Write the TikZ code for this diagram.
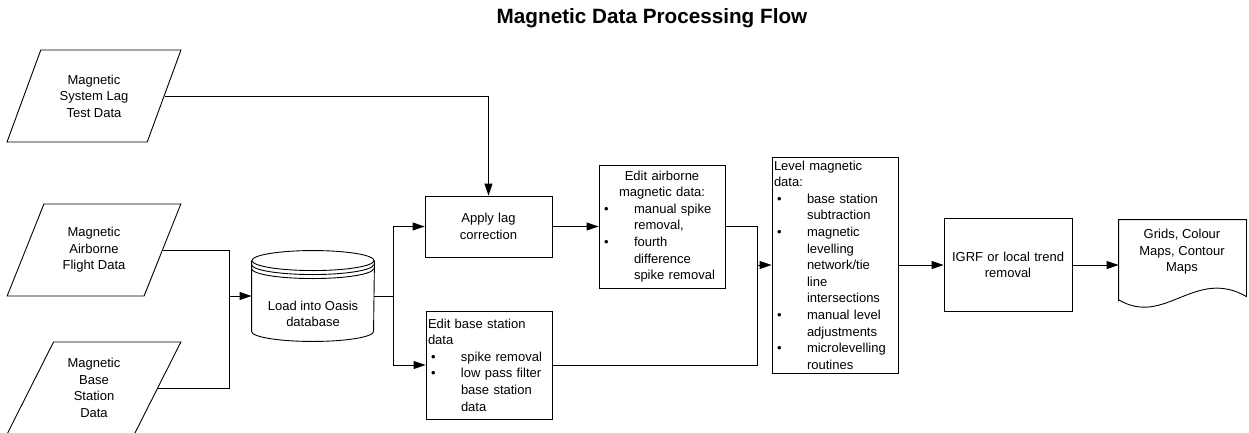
\documentclass[tikz,border=0pt]{standalone}
\usepackage{fontspec}
\setmainfont{Liberation Sans}
\usetikzlibrary{arrows.meta, shapes.geometric}

\newcommand{\bul}{\hspace*{3pt}\makebox[30pt][l]{\textbullet}}
\newcommand{\sig}{\hspace*{33pt}}

\begin{document}
\begin{tikzpicture}[x=1pt, y=1pt, >={Triangle[length=12pt, width=8pt]}, line width=0.9pt,
  txt/.style={font=\fontsize{13}{16.6}\selectfont},
  datos/.style={txt, draw, trapezium, trapezium left angle=63, trapezium right angle=117,
    trapezium stretches=true, minimum width=174pt, minimum height=92pt, align=center, inner sep=0pt},
  caja/.style={txt, draw, rectangle, inner xsep=2pt, inner ysep=1pt, text width=122pt}]
  \useasboundingbox (0,0) rectangle (1249,432);
  \node[font=\bfseries\fontsize{20.7}{24}\selectfont] (titulo) at (652,414) {Magnetic Data Processing Flow};

  % datos de entrada
  \node[datos] (lagdata) at (94,336) {Magnetic\\System Lag\\Test Data};
  \node[datos] (flightdata) at (94,182) {Magnetic\\Airborne\\Flight Data};
  \node[datos] (basedata) at (94,44) {Magnetic\\Base\\Station\\Data};

  % base de datos (cilindro)
  \node[txt, minimum width=122pt, minimum height=90pt] (db) at (313,136) {};
  \draw ([yshift=-10pt]db.north west) -- ([yshift=10pt]db.south west)
    arc[start angle=180, end angle=360, x radius=61pt, y radius=10pt] -- ([yshift=-10pt]db.north east);
  \draw ([yshift=-10pt]db.north) ellipse [x radius=61pt, y radius=10pt];
  \foreach \d in {14,18}
    \draw ([yshift=-\d pt]db.north west) arc[start angle=180, end angle=360, x radius=61pt, y radius=10pt];
  \node[txt, align=center] (dbtexto) at ([yshift=-18pt]db.center) {Load into Oasis\\database};

  \node[caja, align=center, text width=123pt, minimum height=61pt] (applylag) at (488.5,205.5) {Apply lag\\correction};
  \node[caja, align=left, minimum height=123pt] (airedit) at (662,205.5)
    {\makebox[122pt]{Edit airborne}\\\makebox[122pt]{magnetic data:}\\
     \bul manual spike\\\sig removal,\\\bul fourth\\\sig difference\\\sig spike removal};
  \node[caja, align=left, minimum height=108pt] (baseedit) at (489,67)
    {Edit base station\\data\\\bul spike removal\\\bul low pass filter\\\sig base station\\\sig data};
  \node[caja, align=left, minimum height=216pt] (level) at (835,167)
    {Level magnetic\\data:\\\bul base station\\\sig subtraction\\\bul magnetic\\\sig levelling\\
     \sig network/tie\\\sig line\\\sig intersections\\\bul manual level\\\sig adjustments\\
     \bul microlevelling\\\sig routines};
  \node[caja, align=center, text width=124pt, minimum height=93pt] (igrf) at (1008,167) {IGRF or local trend\\removal};

  % documento de salida
  \node[txt, minimum width=127pt, minimum height=90pt] (maps) at (1182.5,167) {};
  \draw ([yshift=10pt]maps.south west) -- (maps.north west) -- (maps.north east) -- ++(0,-77)
    .. controls (1195,165) and (1165,105) .. (1119,132) -- cycle;
  \node[txt, align=center] (mapstexto) at (1182,180) {Grids, Colour\\Maps, Contour\\Maps};

  % conexiones
  \coordinate (union) at (229,136);
  \coordinate (reparto) at (393,136);
  \coordinate (cruce) at (757,167);
  \draw[->] (lagdata.right side) -| (applylag.north);
  \draw (flightdata.right side) -| (union);
  \draw (basedata.right side) -| (union);
  \draw[->] (union) -- (db.west);
  \draw (db.east) -- (reparto);
  \draw[->] (reparto) |- (applylag.west);
  \draw[->] (reparto) |- (baseedit.west);
  \draw[->] (applylag) -- (airedit);
  \draw (airedit.east) -| (cruce);
  \draw (baseedit.east) -| (cruce);
  \draw[->] (cruce) -- (level.west);
  \draw[->] (level) -- (igrf);
  \draw[->] (igrf) -- (maps);
\end{tikzpicture}
\end{document}
